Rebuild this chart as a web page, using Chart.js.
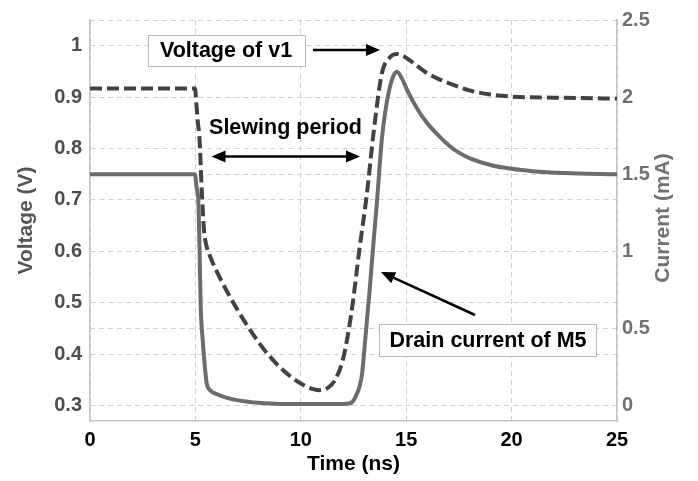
<!DOCTYPE html>
<html>
<head>
<meta charset="utf-8">
<script src="https://cdn.jsdelivr.net/npm/chart.js@4/dist/chart.umd.min.js"></script>
<style>
  html, body { margin: 0; padding: 0; background: #fff; }
  #wrap { width: 698px; height: 481px; position: relative; }
</style>
</head>
<body>
<div id="wrap"><canvas id="c" width="698" height="481"></canvas></div>
<script>
// ---- data ----
const voltageTime = [0, 4.98, 5.05, 5.12, 5.19, 5.3, 5.41, 5.5, 5.7, 6.0, 6.5, 7.0, 7.5, 8.0, 8.5, 9.0, 9.5, 10.0, 10.5, 10.9, 11.3, 11.6, 12.0, 12.4, 12.8, 13.13, 13.45, 13.84, 14.24, 14.56, 14.9, 15.19, 15.98, 16.5, 17.09, 18.0, 19.0, 20.0, 22.0, 25.0];
const voltageV1   = [0.917, 0.917, 0.885, 0.85, 0.823, 0.72, 0.64, 0.615, 0.59, 0.562, 0.522, 0.486, 0.453, 0.423, 0.397, 0.375, 0.357, 0.343, 0.333, 0.330, 0.335, 0.348, 0.39, 0.48, 0.61, 0.71, 0.83, 0.945, 0.978, 0.984, 0.979, 0.971, 0.947, 0.936, 0.926, 0.913, 0.905, 0.901, 0.899, 0.897];

const currentTime = [0, 4.98, 5.05, 5.14, 5.2, 5.25, 5.35, 5.45, 5.54, 5.7, 6.0, 6.5, 7.1, 8.0, 9.0, 12.0, 12.34, 12.58, 12.9, 13.05, 13.26, 13.45, 13.6, 13.84, 14.0, 14.2, 14.4, 14.56, 14.8, 15.03, 15.5, 16.0, 16.5, 17.0, 17.5, 18.0, 19.0, 20.0, 21.0, 22.5, 25.0];
const currentM5   = [1.5, 1.5, 1.42, 1.32, 1.0, 0.65, 0.42, 0.25, 0.14, 0.10, 0.075, 0.05, 0.032, 0.018, 0.011, 0.011, 0.015, 0.053, 0.2, 0.418, 0.74, 1.06, 1.3, 1.72, 1.9, 2.05, 2.14, 2.165, 2.12, 2.05, 1.93, 1.83, 1.755, 1.69, 1.64, 1.605, 1.56, 1.535, 1.52, 1.508, 1.5];

const xTicks = [0, 5, 10, 15, 20, 25];
const voltageTicks = [0.3, 0.4, 0.5, 0.6, 0.7, 0.8, 0.9, 1.0];
const currentTicks = [0, 0.5, 1, 1.5, 2, 2.5];

const xTitle = 'Time (ns)';
const yLeftTitle = 'Voltage (V)';
const yRightTitle = 'Current (mA)';
const labelV1 = 'Voltage of v1';
const labelSlew = 'Slewing period';
const labelM5 = 'Drain current of M5';

// ---- chart ----
const FONT = '"Liberation Sans", Arial, sans-serif';
const gridStyle = { color: '#cfcfcf', lineWidth: 1, drawTicks: false };
const borderStyle = { display: true, color: '#c4c4c4', width: 1.5, dash: [5, 4] };

function arrow(ctx, x1, y1, x2, y2) {
  const ang = Math.atan2(y2 - y1, x2 - x1);
  const hl = 14, hw = 6;
  ctx.beginPath();
  ctx.moveTo(x1, y1);
  ctx.lineTo(x2 - Math.cos(ang) * hl * 0.8, y2 - Math.sin(ang) * hl * 0.8);
  ctx.stroke();
  ctx.beginPath();
  ctx.moveTo(x2, y2);
  ctx.lineTo(x2 - hl * Math.cos(ang) + hw * Math.sin(ang), y2 - hl * Math.sin(ang) - hw * Math.cos(ang));
  ctx.lineTo(x2 - hl * Math.cos(ang) - hw * Math.sin(ang), y2 - hl * Math.sin(ang) + hw * Math.cos(ang));
  ctx.closePath();
  ctx.fill();
}

const annotations = {
  id: 'annotations',
  afterDraw(chart) {
    const ctx = chart.ctx;
    ctx.save();
    // right axis title (reads bottom to top)
    ctx.fillStyle = '#707070';
    ctx.font = 'bold 21px ' + FONT;
    ctx.textAlign = 'center';
    ctx.textBaseline = 'middle';
    ctx.translate(663, 218);
    ctx.rotate(-Math.PI / 2);
    ctx.fillText(yRightTitle, 0, 0);
    ctx.restore();

    ctx.save();
    // box: Voltage of v1
    ctx.fillStyle = '#fff';
    ctx.fillRect(148.5, 35.5, 157, 31);
    ctx.strokeStyle = '#b8b8b8';
    ctx.lineWidth = 1;
    ctx.strokeRect(148.5, 35.5, 157, 31);
    // box: Drain current of M5
    ctx.fillStyle = '#fff';
    ctx.fillRect(379.5, 324.5, 217, 32);
    ctx.strokeRect(379.5, 324.5, 217, 32);

    ctx.fillStyle = '#000';
    ctx.font = 'bold 21.5px ' + FONT;
    ctx.textAlign = 'center';
    ctx.textBaseline = 'middle';
    ctx.fillText(labelV1, 226, 51.5);
    ctx.fillText(labelSlew, 285.5, 128.5);
    ctx.fillText(labelM5, 488, 341);

    ctx.strokeStyle = '#000';
    ctx.fillStyle = '#000';
    ctx.lineWidth = 2.5;
    arrow(ctx, 313, 50, 380, 50);
    arrow(ctx, 285, 156.5, 360, 156.5);
    arrow(ctx, 285, 156.5, 211.5, 156.5);
    arrow(ctx, 475, 315, 381, 272);
    ctx.restore();
  }
};

new Chart(document.getElementById('c'), {
  type: 'line',
  data: {
    datasets: [
      {
        label: 'Drain current of M5',
        data: currentTime.map((t, i) => ({ x: t, y: currentM5[i] })),
        yAxisID: 'yI',
        borderColor: '#6c6c6c',
        borderWidth: 4,
        pointRadius: 0,
        cubicInterpolationMode: 'monotone',
        fill: false
      },
      {
        label: 'Voltage of v1',
        data: voltageTime.map((t, i) => ({ x: t, y: voltageV1[i] })),
        yAxisID: 'yV',
        borderColor: '#424242',
        borderWidth: 4,
        borderDash: [12, 5],
        pointRadius: 0,
        cubicInterpolationMode: 'monotone',
        fill: false
      }
    ]
  },
  options: {
    responsive: false,
    animation: false,
    layout: { padding: { top: 16, left: 0, right: 0, bottom: 0 } },
    plugins: { legend: { display: false }, tooltip: { enabled: false } },
    scales: {
      x: {
        type: 'linear',
        min: 0, max: 25,
        afterBuildTicks: (s) => { s.ticks = xTicks.map(v => ({ value: v })); },
        afterFit: (s) => { s.height = 60; },
        grid: Object.assign({}, gridStyle),
        border: Object.assign({}, borderStyle),
        ticks: { color: '#000', font: { family: FONT, size: 20, weight: 'bold' }, padding: 7, maxRotation: 0 },
        title: { display: true, text: xTitle, color: '#000', font: { family: FONT, size: 21, weight: 'bold', lineHeight: 1.2 }, padding: { top: 0, bottom: 4 } }
      },
      yV: {
        type: 'linear',
        position: 'left',
        min: 0.27, max: 1.05,
        afterBuildTicks: (s) => { s.ticks = voltageTicks.map(v => ({ value: v })); },
        afterFit: (s) => { s.width = 90; },
        grid: Object.assign({}, gridStyle),
        border: Object.assign({}, borderStyle),
        ticks: { color: '#4d4d4d', font: { family: FONT, size: 20, weight: 'bold' }, padding: 8,
                 callback: (v) => (v === 1 ? '1' : v.toFixed(1)) },
        title: { display: true, text: yLeftTitle, color: '#555', font: { family: FONT, size: 21, weight: 'bold', lineHeight: 1.2 }, padding: { top: 14, bottom: 0 } }
      },
      yI: {
        type: 'linear',
        position: 'right',
        min: -0.1, max: 2.5,
        afterBuildTicks: (s) => { s.ticks = currentTicks.map(v => ({ value: v })); },
        afterFit: (s) => { s.width = 81; },
        grid: Object.assign({}, gridStyle),
        border: Object.assign({}, borderStyle),
        ticks: { color: '#707070', font: { family: FONT, size: 20, weight: 'bold' }, padding: 5,
                 callback: (v) => String(v) },
        title: { display: false }
      }
    }
  },
  plugins: [annotations]
});
</script>
</body>
</html>
